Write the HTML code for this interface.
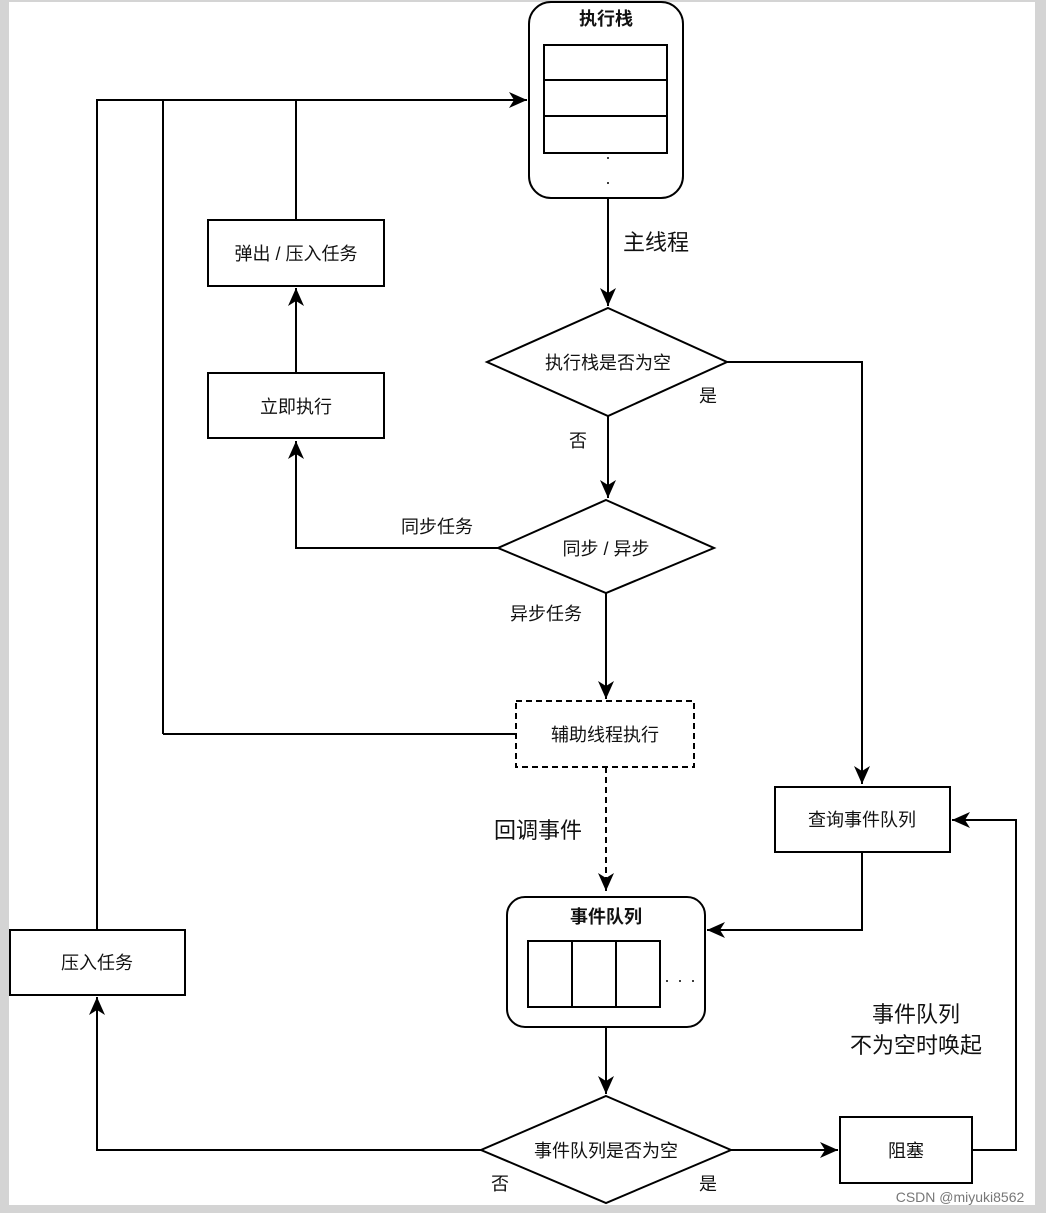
<!DOCTYPE html>
<html><head><meta charset="utf-8"><style>
html,body{margin:0;padding:0;background:#d4d4d4;}
svg{display:block;}
text{font-family:"Liberation Sans","Noto Sans CJK SC",sans-serif;fill:#111;}
</style></head><body>
<svg width="1046" height="1213" viewBox="0 0 1046 1213" xmlns="http://www.w3.org/2000/svg">
<defs>
<marker id="a" markerWidth="10" markerHeight="10" refX="9" refY="5" orient="auto" markerUnits="userSpaceOnUse" viewBox="0 0 10 10">
<path d="M0,0 L10,5 L0,10 L3,5 Z" fill="#000"/></marker>
<marker id="b" markerWidth="20" markerHeight="20" refX="18" refY="8" orient="auto" markerUnits="userSpaceOnUse" viewBox="0 0 20 16">
<path d="M0,0 L18,8 L0,16 L5,8 Z" fill="#000"/></marker>
</defs>
<rect x="9" y="2" width="1026" height="1203" fill="#fff"/>
<g fill="none" stroke="#000" stroke-width="2">
<!-- exec stack -->
<rect x="529" y="2" width="154" height="196" rx="22"/>
<rect x="544" y="45" width="123" height="108"/>
<line x1="544" y1="80" x2="667" y2="80"/>
<line x1="544" y1="116" x2="667" y2="116"/>
<!-- top line -->
<path d="M97,930 V100 H527" marker-end="url(#b)"/>
<path d="M163,734 V100"/>
<path d="M296,220 V100"/>
<rect x="208" y="220" width="176" height="66"/>
<path d="M296,373 V288" marker-end="url(#b)"/>
<rect x="208" y="373" width="176" height="65"/>
<path d="M608,198 V306" marker-end="url(#b)"/>
<polygon points="608,308 727,362 608,416 487,362"/>
<path d="M727,362 H862 V784" marker-end="url(#b)"/>
<path d="M608,416 V498" marker-end="url(#b)"/>
<polygon points="606,500 714,548 606,593 498,548"/>
<path d="M498,548 H296 V441" marker-end="url(#b)"/>
<path d="M606,593 V699" marker-end="url(#b)"/>
<rect x="516" y="701" width="178" height="66" stroke-dasharray="6,4"/>
<path d="M516,734 H163"/>
<path d="M606,767 V891" stroke-dasharray="6,4" marker-end="url(#b)"/>
<rect x="507" y="897" width="198" height="130" rx="18"/>
<rect x="528" y="941" width="132" height="66"/>
<line x1="572" y1="941" x2="572" y2="1007"/>
<line x1="616" y1="941" x2="616" y2="1007"/>
<rect x="775" y="787" width="175" height="65"/>
<path d="M862,852 V930 H707" marker-end="url(#b)"/>
<path d="M606,1027 V1094" marker-end="url(#b)"/>
<polygon points="606,1096 731,1150 606,1203 481,1150"/>
<path d="M731,1150 H838" marker-end="url(#b)"/>
<rect x="840" y="1117" width="132" height="66"/>
<path d="M972,1150 H1016 V820 H952" marker-end="url(#b)"/>
<path d="M481,1150 H97 V997" marker-end="url(#b)"/>
<rect x="10" y="930" width="175" height="65"/>
</g>
<g fill="#000"><circle cx="608" cy="158" r="1"/><circle cx="608" cy="183" r="1"/>
<circle cx="667" cy="981" r="1"/><circle cx="680" cy="981" r="1"/><circle cx="693" cy="981" r="1"/></g>
<g font-size="18" text-anchor="middle">
<text x="606" y="25" font-weight="bold">执行栈</text>
<text x="296" y="260">弹出 / 压入任务</text>
<text x="296" y="413">立即执行</text>
<text x="608" y="369">执行栈是否为空</text>
<text x="606" y="555">同步 / 异步</text>
<text x="605" y="741">辅助线程执行</text>
<text x="606" y="923" font-weight="bold">事件队列</text>
<text x="862" y="826">查询事件队列</text>
<text x="606" y="1157">事件队列是否为空</text>
<text x="906" y="1157">阻塞</text>
<text x="97" y="969">压入任务</text>
<text x="708" y="402">是</text>
<text x="578" y="447">否</text>
<text x="437" y="533">同步任务</text>
<text x="546" y="620">异步任务</text>
<text x="500" y="1190">否</text>
<text x="708" y="1190">是</text>
</g>
<g font-size="22" text-anchor="middle">
<text x="656" y="250">主线程</text>
<text x="538" y="838">回调事件</text>
<text x="916" y="1022">事件队列</text>
<text x="916" y="1053">不为空时唤起</text>
</g>
<text x="960" y="1202" font-size="14" text-anchor="middle" fill="#777" style="fill:#777">CSDN @miyuki8562</text>
</svg>
</body></html>
